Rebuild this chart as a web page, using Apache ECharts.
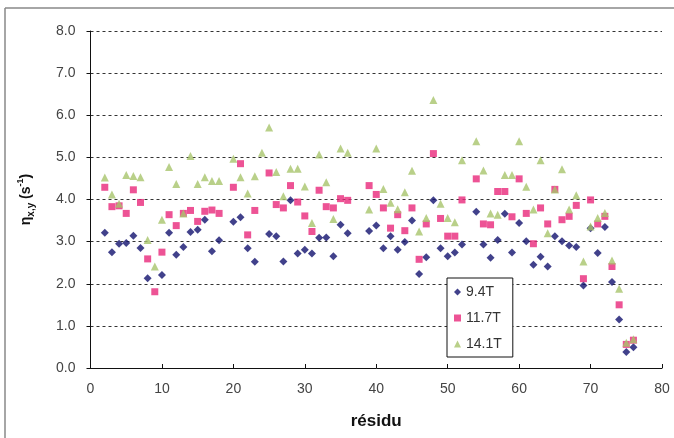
<!DOCTYPE html>
<html><head><meta charset="utf-8">
<script src="https://cdn.jsdelivr.net/npm/echarts@6/dist/echarts.min.js"></script>
<style>html,body{margin:0;padding:0;background:#fff}#c{width:674px;height:438px}</style>
</head><body><div id="c"></div>
<script>
const residues = [2,3,4,5,6,7,8,9,10,11,12,13,14,15,16,17,18,20,21,22,23,24,25,26,27,28,29,30,31,32,33,34,35,36,39,40,41,42,43,44,45,46,47,48,49,50,51,52,54,55,56,57,58,59,60,61,62,63,64,65,66,67,68,69,70,71,72,73,74,75,76];
const eta94 = [3.21,2.75,2.95,2.97,3.14,2.85,2.13,null,2.21,3.21,2.69,2.87,3.23,3.28,3.52,2.77,3.03,
  3.47,3.58,2.84,2.52,null,3.18,3.13,2.53,3.98,2.72,2.81,2.72,3.09,3.10,2.65,3.40,3.20,
  3.25,3.38,2.84,3.13,2.81,2.99,3.50,2.23,2.63,3.98,2.84,2.65,2.74,2.93,
  3.71,2.93,2.62,3.04,3.66,2.74,3.44,3.01,2.45,2.64,2.41,3.13,3.01,2.91,2.87,1.96,3.32,2.73,3.35,2.04,1.15,0.38,0.49];
const eta117 = [4.29,3.83,3.85,3.67,4.23,3.93,2.59,1.81,2.75,3.64,3.38,3.67,3.74,3.48,3.72,3.75,3.67,
  4.29,4.85,3.16,3.74,null,4.63,3.88,3.80,4.33,3.94,3.61,3.24,4.22,3.83,3.80,4.02,3.98,
  4.33,4.12,3.80,3.32,3.64,3.26,3.80,2.58,3.42,5.09,3.55,3.13,3.13,3.99,
  4.49,3.42,3.40,4.19,4.19,3.59,4.49,3.67,2.95,3.80,3.42,4.24,3.52,3.60,3.86,2.12,3.99,3.42,3.60,2.41,1.50,0.56,0.66];
const eta141 = [4.52,4.12,3.90,4.58,4.56,4.53,3.04,2.41,3.52,4.77,4.37,3.67,5.03,4.37,4.53,4.44,4.44,
  4.97,4.53,4.14,4.55,5.11,5.71,4.65,4.08,4.73,4.73,4.31,3.44,5.07,4.41,3.54,5.21,5.11,
  3.76,5.21,4.25,3.92,3.77,4.17,4.68,3.24,3.56,6.36,3.90,3.56,3.46,4.93,
  5.38,4.69,3.67,3.64,4.58,4.58,5.38,4.30,3.76,4.93,3.20,4.24,4.72,3.76,4.10,2.53,3.36,3.56,3.68,2.55,1.88,0.60,0.68];
const seriesNames = ['9.4T','11.7T','14.1T'];
const xTicks = {min:0, max:80, interval:10};
const yTicks = {min:0, max:8, interval:1};

function pairs(vals){ return residues.map((r,i)=>[r, vals[i]]).filter(p=>p[1]!==null); }

const chart = echarts.init(document.getElementById('c'), null, {renderer:'canvas'});
const font = 'Liberation Sans, Arial, sans-serif';
chart.setOption({
  animation:false,
  backgroundColor:'#fff',
  graphic:[
    {type:'line', shape:{x1:5,y1:8,x2:5,y2:438}, style:{stroke:'#888',lineWidth:1.5}},
    {type:'line', shape:{x1:5,y1:8,x2:674,y2:8}, style:{stroke:'#888',lineWidth:1.5}}
  ],
  grid:{left:90.5, right:12, top:31, bottom:70, containLabel:false},
  legend:{
    orient:'vertical', left:447, top:278,
    backgroundColor:'#fff', borderColor:'#111', borderWidth:1,
    padding:[6,11,5,7], itemGap:10, itemWidth:7, itemHeight:7,
    textStyle:{fontFamily:font, fontSize:14, color:'#333', lineHeight:16},
    data:[{name:'9.4T',icon:'diamond'},{name:'11.7T',icon:'rect'},{name:'14.1T',icon:'triangle'}]
  },
  xAxis:{
    type:'value', min:xTicks.min, max:xTicks.max, interval:xTicks.interval,
    name:'résidu', nameLocation:'middle', nameGap:45,
    nameTextStyle:{fontFamily:font, fontSize:17, fontWeight:'bold', color:'#111'},
    axisLine:{lineStyle:{color:'#111', width:1}},
    axisTick:{inside:true, length:4, lineStyle:{color:'#111'}},
    axisLabel:{fontFamily:font, fontSize:14, color:'#444', margin:14},
    splitLine:{show:false}
  },
  yAxis:{
    type:'value', min:yTicks.min, max:yTicks.max, interval:yTicks.interval,
    name:'{a|η}{s|x,y}{a| (s}{p|-1}{a|)}', nameLocation:'middle', nameGap:54,
    nameTextStyle:{fontFamily:font, rich:{
      a:{fontFamily:font, fontSize:14, fontWeight:'bold', color:'#111', lineHeight:20, verticalAlign:'middle'},
      s:{fontFamily:font, fontSize:10, fontWeight:'bold', color:'#111', lineHeight:20, verticalAlign:'bottom'},
      p:{fontFamily:font, fontSize:9, fontWeight:'bold', color:'#111', lineHeight:20, verticalAlign:'top'}
    }},
    axisLine:{show:true, lineStyle:{color:'#111', width:1}},
    axisTick:{show:true, length:4, lineStyle:{color:'#111'}},
    axisLabel:{fontFamily:font, fontSize:14, color:'#444', margin:15, formatter:v=>v.toFixed(1)},
    splitLine:{show:true, lineStyle:{color:'#333', width:1, type:[3,3]}}
  },
  series:[
    {name:seriesNames[0], type:'scatter', symbol:'diamond', symbolSize:8, itemStyle:{color:'#12126e'}, data:pairs(eta94)},
    {name:seriesNames[1], type:'scatter', symbol:'rect', symbolSize:7, itemStyle:{color:'#e8287a'}, data:pairs(eta117)},
    {name:seriesNames[2], type:'scatter', symbol:'triangle', symbolSize:8, itemStyle:{color:'#a8c46c'}, data:pairs(eta141)}
  ]
});
</script></body></html>
